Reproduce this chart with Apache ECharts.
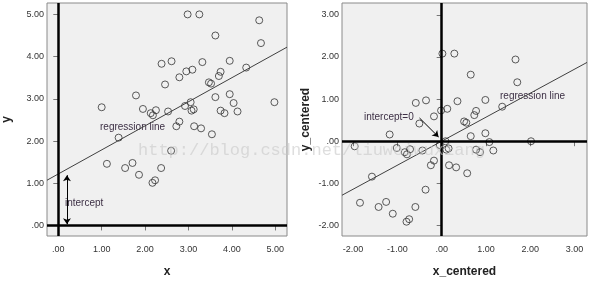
<!DOCTYPE html>
<html>
<head>
<meta charset="utf-8">
<script src="https://cdn.jsdelivr.net/npm/echarts@6/dist/echarts.min.js"></script>
<style>
  html, body { margin: 0; padding: 0; background: #fff; }
  #chart { width: 600px; height: 283px; }
</style>
</head>
<body>
<div id="chart"></div>
<script>
// raw points (x, y)
var xValues = [1.00, 1.79, 1.95, 2.13, 2.18, 2.25, 2.38, 2.46, 2.53, 2.61,
  2.72, 2.79, 2.79, 2.92, 2.95, 2.98, 3.05, 3.07, 3.09, 3.12,
  3.13, 3.25, 3.29, 3.32, 3.54, 3.62, 3.62, 3.47, 3.52, 3.70,
  3.74, 3.74, 3.83, 3.95, 3.95, 4.04, 4.13, 4.33, 4.63, 4.67,
  4.98, 1.39, 1.12, 1.54, 1.71, 1.86, 2.17, 2.23, 2.37, 2.60];
var yValues = [2.80, 3.08, 2.76, 2.66, 2.61, 2.73, 3.83, 3.34, 2.70, 3.89,
  2.35, 3.51, 2.46, 2.83, 3.65, 5.00, 2.92, 2.72, 3.69, 2.75,
  2.35, 5.00, 2.30, 3.87, 2.16, 4.50, 3.04, 3.39, 3.36, 3.54,
  3.64, 2.72, 2.66, 3.90, 3.11, 2.90, 2.70, 3.74, 4.86, 4.32,
  2.92, 2.08, 1.46, 1.36, 1.48, 1.20, 1.01, 1.07, 1.36, 1.77];

// tick labels
var leftXTicks = [0, 1, 2, 3, 4, 5];
var leftYTicks = [0, 1, 2, 3, 4, 5];
var rightXTicks = [-2, -1, 0, 1, 2, 3];
var rightYTicks = [-2, -1, 0, 1, 2, 3];

// fitted line
var intercept = 1.22;
var slope = 0.57;

var leftX = [-0.26, 5.27], leftY = [-0.25, 5.27];
var rightX = [-2.25, 3.28], rightY = [-2.25, 3.28];

function mean (arr) {
  var s = 0;
  for (var i = 0; i < arr.length; i++) s += arr[i];
  return s / arr.length;
}
var mx = mean(xValues), my = mean(yValues);

var rawData = [], centeredData = [];
for (var i = 0; i < xValues.length; i++) {
  rawData.push([xValues[i], yValues[i]]);
  centeredData.push([xValues[i] - mx, yValues[i] - my]);
}

function fmt (v) {
  return Number(v).toFixed(2).replace(/^(-?)0\./, '$1.');
}

var font = '"Liberation Sans", Arial, sans-serif';
var textColor = '#3d3045';

function makeX (idx, range, ticks, name) {
  return {
    gridIndex: idx, type: 'value', min: range[0], max: range[1],
    name: name, nameLocation: 'middle', nameGap: 30,
    nameTextStyle: { fontFamily: font, fontWeight: 'bold', fontSize: 12, color: '#222' },
    axisLine: { show: false },
    axisTick: { show: true, length: 5, customValues: ticks, lineStyle: { color: '#777' } },
    axisLabel: { customValues: ticks, formatter: fmt, fontFamily: font, fontSize: 9, color: '#333', margin: 9 },
    splitLine: { show: false },
  };
}
function makeY (idx, range, ticks, name, gap) {
  return {
    gridIndex: idx, type: 'value', min: range[0], max: range[1],
    name: name, nameLocation: 'middle', nameGap: gap,
    nameTextStyle: { fontFamily: font, fontWeight: 'bold', fontSize: 12, color: '#222' },
    axisLine: { show: false },
    axisTick: { show: true, length: 5, customValues: ticks, lineStyle: { color: '#777' } },
    axisLabel: { customValues: ticks, formatter: fmt, fontFamily: font, fontSize: 9, color: '#333', margin: 3 },
    splitLine: { show: false },
  };
}

var zeroLines = {
  silent: true, symbol: 'none', label: { show: false },
  lineStyle: { color: '#000', width: 2.5, type: 'solid' },
  data: [{ xAxis: 0 }, { yAxis: 0 }],
};

var pointStyle = { color: 'transparent', borderColor: '#333', borderWidth: 1 };

var option = {
  animation: false,
  grid: [
    { left: 42, top: 3, width: 245, height: 237, show: true, backgroundColor: '#f0f0f0', borderColor: '#8a8a8a', borderWidth: 1 },
    { left: 342, top: 3, width: 245, height: 240, show: true, backgroundColor: '#f0f0f0', borderColor: '#8a8a8a', borderWidth: 1 },
  ],
  xAxis: [makeX(0, leftX, leftXTicks, 'x'), makeX(1, rightX, rightXTicks, 'x_centered')],
  yAxis: [makeY(0, leftY, leftYTicks, 'y', 34), makeY(1, rightY, rightYTicks, 'y_centered', 30)],
  series: [
    {
      type: 'scatter', xAxisIndex: 0, yAxisIndex: 0, symbol: 'circle', symbolSize: 7,
      itemStyle: pointStyle, data: rawData, markLine: zeroLines, silent: true,
    },
    {
      type: 'scatter', xAxisIndex: 1, yAxisIndex: 1, symbol: 'circle', symbolSize: 7,
      itemStyle: pointStyle, data: centeredData, markLine: zeroLines, silent: true,
    },
    {
      type: 'line', xAxisIndex: 0, yAxisIndex: 0, showSymbol: false, silent: true,
      lineStyle: { color: '#404040', width: 1 },
      data: [[leftX[0], intercept + slope * leftX[0]], [leftX[1], intercept + slope * leftX[1]]],
      // double arrow for the intercept
      markLine: {
        silent: true, symbol: ['arrow', 'arrow'], symbolSize: 6, label: { show: false },
        lineStyle: { color: '#000', width: 1, type: 'solid' },
        data: [[{ coord: [0.2, intercept - 0.03] }, { coord: [0.2, 0.03] }]],
      },
    },
    {
      type: 'line', xAxisIndex: 1, yAxisIndex: 1, showSymbol: false, silent: true,
      lineStyle: { color: '#404040', width: 1 },
      data: [[rightX[0], slope * rightX[0]], [rightX[1], slope * rightX[1]]],
      markLine: {
        silent: true, symbol: ['none', 'arrow'], symbolSize: 6, label: { show: false },
        lineStyle: { color: '#000', width: 1, type: 'solid' },
        data: [[{ coord: [-0.5, 0.55] }, { coord: [-0.07, 0.1] }]],
      },
    },
  ],
  graphic: [
    { type: 'text', left: 100, top: 122, style: { text: 'regression line', fill: textColor, font: '10px ' + font } },
    { type: 'text', left: 65, top: 198, style: { text: 'intercept', fill: textColor, font: '10px ' + font } },
    { type: 'text', left: 500, top: 91, style: { text: 'regression line', fill: textColor, font: '10px ' + font } },
    { type: 'text', left: 364, top: 112, style: { text: 'intercept=0', fill: textColor, font: '10px ' + font } },
    // watermark
    { type: 'text', left: 138, top: 142, z: 100, style: { text: 'http://blog.csdn.net/liuweiwuxiang', fill: 'rgba(200,200,200,0.6)', font: '17px "Liberation Mono", monospace' } },
  ],
};

var chart = echarts.init(document.getElementById('chart'));
chart.setOption(option);
</script>
</body>
</html>
